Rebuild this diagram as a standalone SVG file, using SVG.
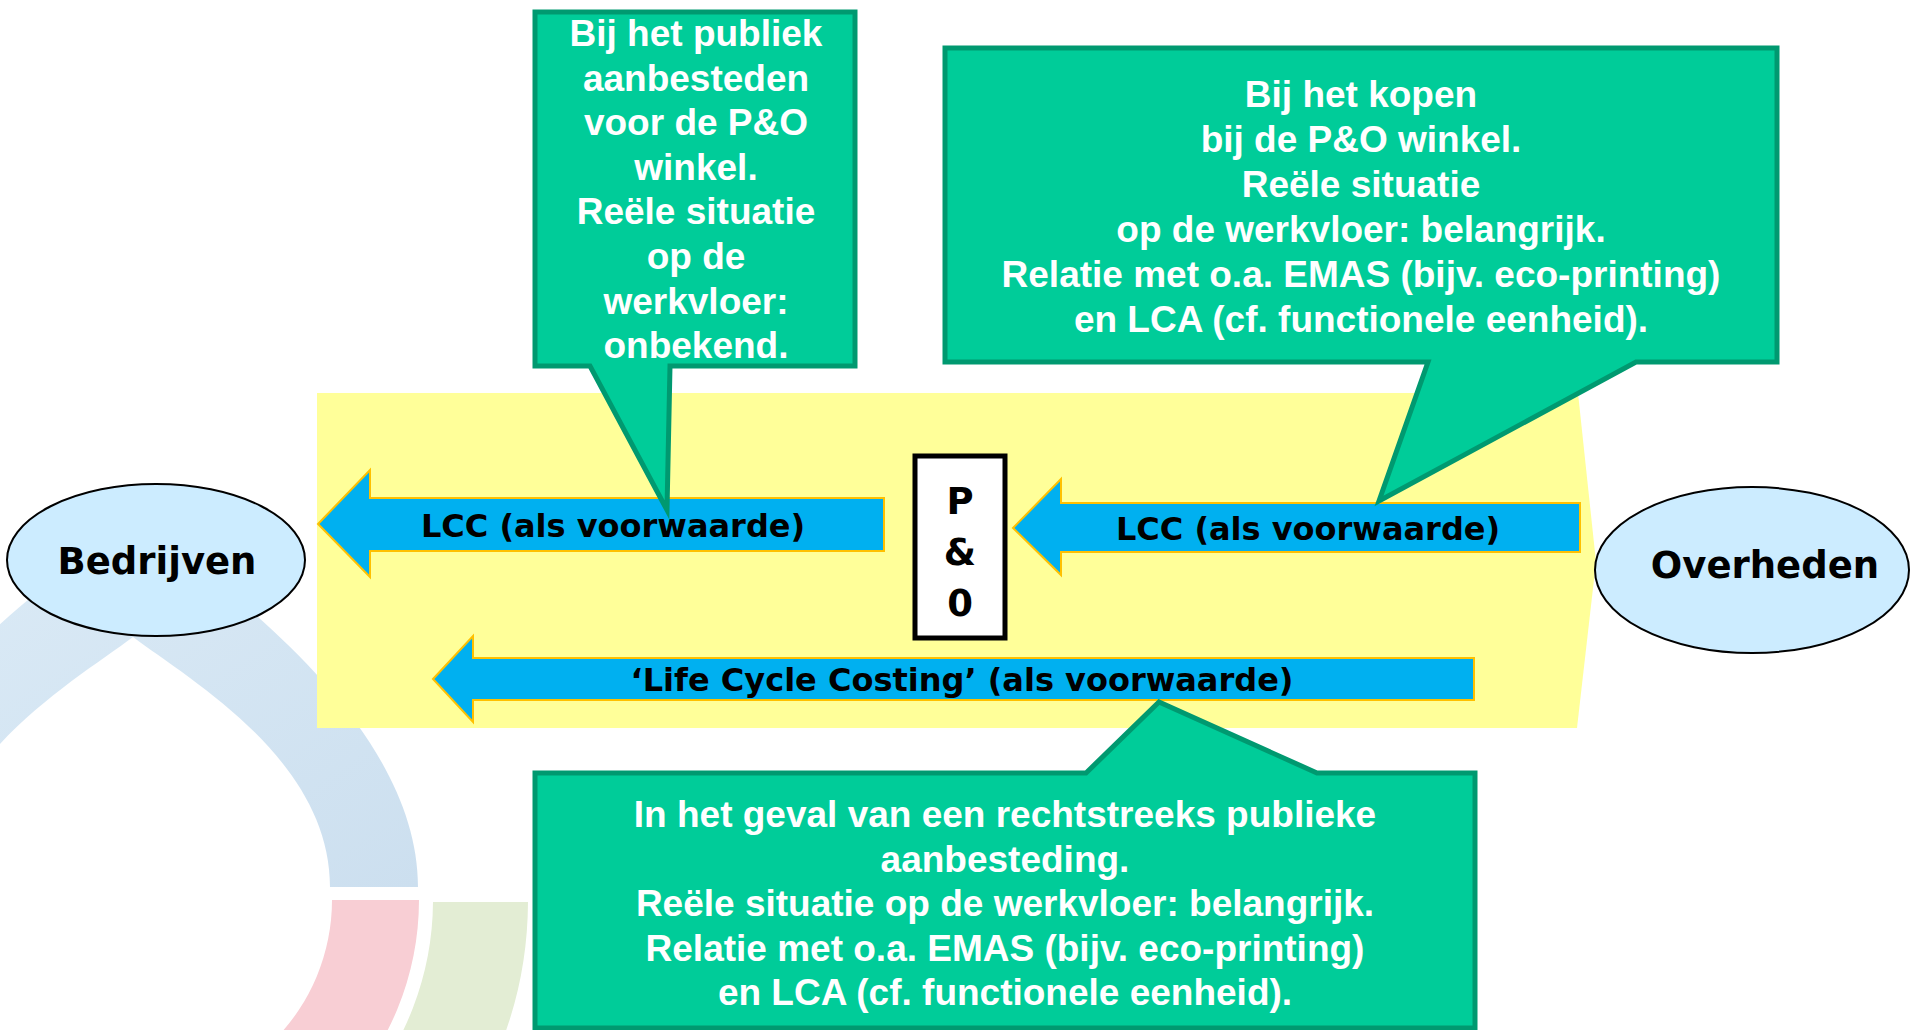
<svg xmlns="http://www.w3.org/2000/svg" width="1911" height="1030" viewBox="0 0 1911 1030">
<style>
.ell{fill:#CCECFF;stroke:#000;stroke-width:2}
.lbl{font-family:"DejaVu Sans",Verdana,sans-serif;font-weight:bold;fill:#000;text-anchor:middle}
.big{font-size:37px}
.arr{fill:#00B0F0;stroke:#FFC000;stroke-width:2;stroke-linejoin:miter}
.arrtxt{font-size:32px}
.call{fill:#00CC99;stroke:#009970;stroke-width:5;stroke-linejoin:miter}
.ctxt{font-family:"Liberation Sans",Arial,sans-serif;font-weight:bold;font-size:37px;fill:#fff;text-anchor:middle}
</style>
<defs>
<linearGradient id="blueg" x1="0" y1="0" x2="1" y2="1">
<stop offset="0" stop-color="#DDECF7"/>
<stop offset="1" stop-color="#CCDFEF"/>
</linearGradient>
</defs>
<rect x="0" y="0" width="1911" height="1030" fill="#fff"/>
<g id="watermark">
<path d="M133,520 C210,575 418,720 418,887 L330,887 C330,760 190,680 133,637 C76,680 -64,760 -64,887 L-152,887 C-152,720 56,575 133,520 Z" fill="url(#blueg)"/>
<path d="M419,900 A286,286 0 0 1 -153,900 L-66,900 A199,199 0 0 0 332,900 Z" fill="#F8CED4"/>
<path d="M433,902 L528,902 A395,395 0 0 1 473.6,1100 L356.6,1100 A300,300 0 0 0 433,902 Z" fill="#E3EDD4"/>
</g>
<g id="band">
<polygon points="317,393 1578,393 1596,562 1577,728 317,728" fill="#FFFF99"/>
</g>
<g id="connectors">
<g id="arrow-top-left">
<polygon class="arr" points="318,524 370,470 370,498 884,498 884,551 370,551 370,577"/>
<text class="lbl arrtxt" x="613" y="537">LCC (als voorwaarde)</text>
</g>
<g id="arrow-top-right">
<polygon class="arr" points="1013,528 1061,479 1061,503 1580,503 1580,552 1061,552 1061,575"/>
<text class="lbl arrtxt" x="1308" y="540">LCC (als voorwaarde)</text>
</g>
<g id="arrow-bottom">
<polygon class="arr" points="433,679 473,636 473,658 1474,658 1474,700 473,700 473,722"/>
<text class="lbl arrtxt" x="962" y="691">‘Life Cycle Costing’ (als voorwaarde)</text>
</g>
</g>
<g id="bedrijven">
<ellipse class="ell" cx="156" cy="560" rx="149" ry="76"/>
<text class="lbl big" x="157" y="574">Bedrijven</text>
</g>
<g id="overheden">
<ellipse class="ell" cx="1752" cy="570" rx="157" ry="83"/>
<text class="lbl big" x="1765" y="578">Overheden</text>
</g>
<g id="po">
<rect x="915" y="456" width="90" height="182" fill="#fff" stroke="#000" stroke-width="5"/>
<text class="lbl big" x="960" y="514">P</text>
<text class="lbl big" x="960" y="565">&amp;</text>
<text class="lbl big" x="960" y="616">0</text>
</g>
<g id="callout-publiek">
<path class="call" d="M535,12 H855 V366 H670 L667,510 L590,366 H535 Z"/>
<text class="ctxt" x="696" y="46">Bij het publiek</text>
<text class="ctxt" x="696" y="90.6">aanbesteden</text>
<text class="ctxt" x="696" y="135.2">voor de P&amp;O</text>
<text class="ctxt" x="696" y="179.8">winkel.</text>
<text class="ctxt" x="696" y="224.4">Reële situatie</text>
<text class="ctxt" x="696" y="269">op de</text>
<text class="ctxt" x="696" y="313.6">werkvloer:</text>
<text class="ctxt" x="696" y="358.2">onbekend.</text>
</g>
<g id="callout-kopen">
<path class="call" d="M945,48 H1777 V362 H1636 L1379,501 L1428,362 H945 Z"/>
<text class="ctxt" x="1361" y="106.5">Bij het kopen</text>
<text class="ctxt" x="1361" y="151.5">bij de P&amp;O winkel.</text>
<text class="ctxt" x="1361" y="196.5">Reële situatie</text>
<text class="ctxt" x="1361" y="241.5">op de werkvloer: belangrijk.</text>
<text class="ctxt" x="1361" y="286.5">Relatie met o.a. EMAS (bijv. eco-printing)</text>
<text class="ctxt" x="1361" y="331.5">en LCA (cf. functionele eenheid).</text>
</g>
<g id="callout-rechtstreeks">
<path class="call" d="M535,773 H1086 L1159,702 L1317,773 H1475 V1028 H535 Z"/>
<text class="ctxt" x="1005" y="827">In het geval van een rechtstreeks publieke</text>
<text class="ctxt" x="1005" y="871.5">aanbesteding.</text>
<text class="ctxt" x="1005" y="916">Reële situatie op de werkvloer: belangrijk.</text>
<text class="ctxt" x="1005" y="960.5">Relatie met o.a. EMAS (bijv. eco-printing)</text>
<text class="ctxt" x="1005" y="1005">en LCA (cf. functionele eenheid).</text>
</g>
</svg>
